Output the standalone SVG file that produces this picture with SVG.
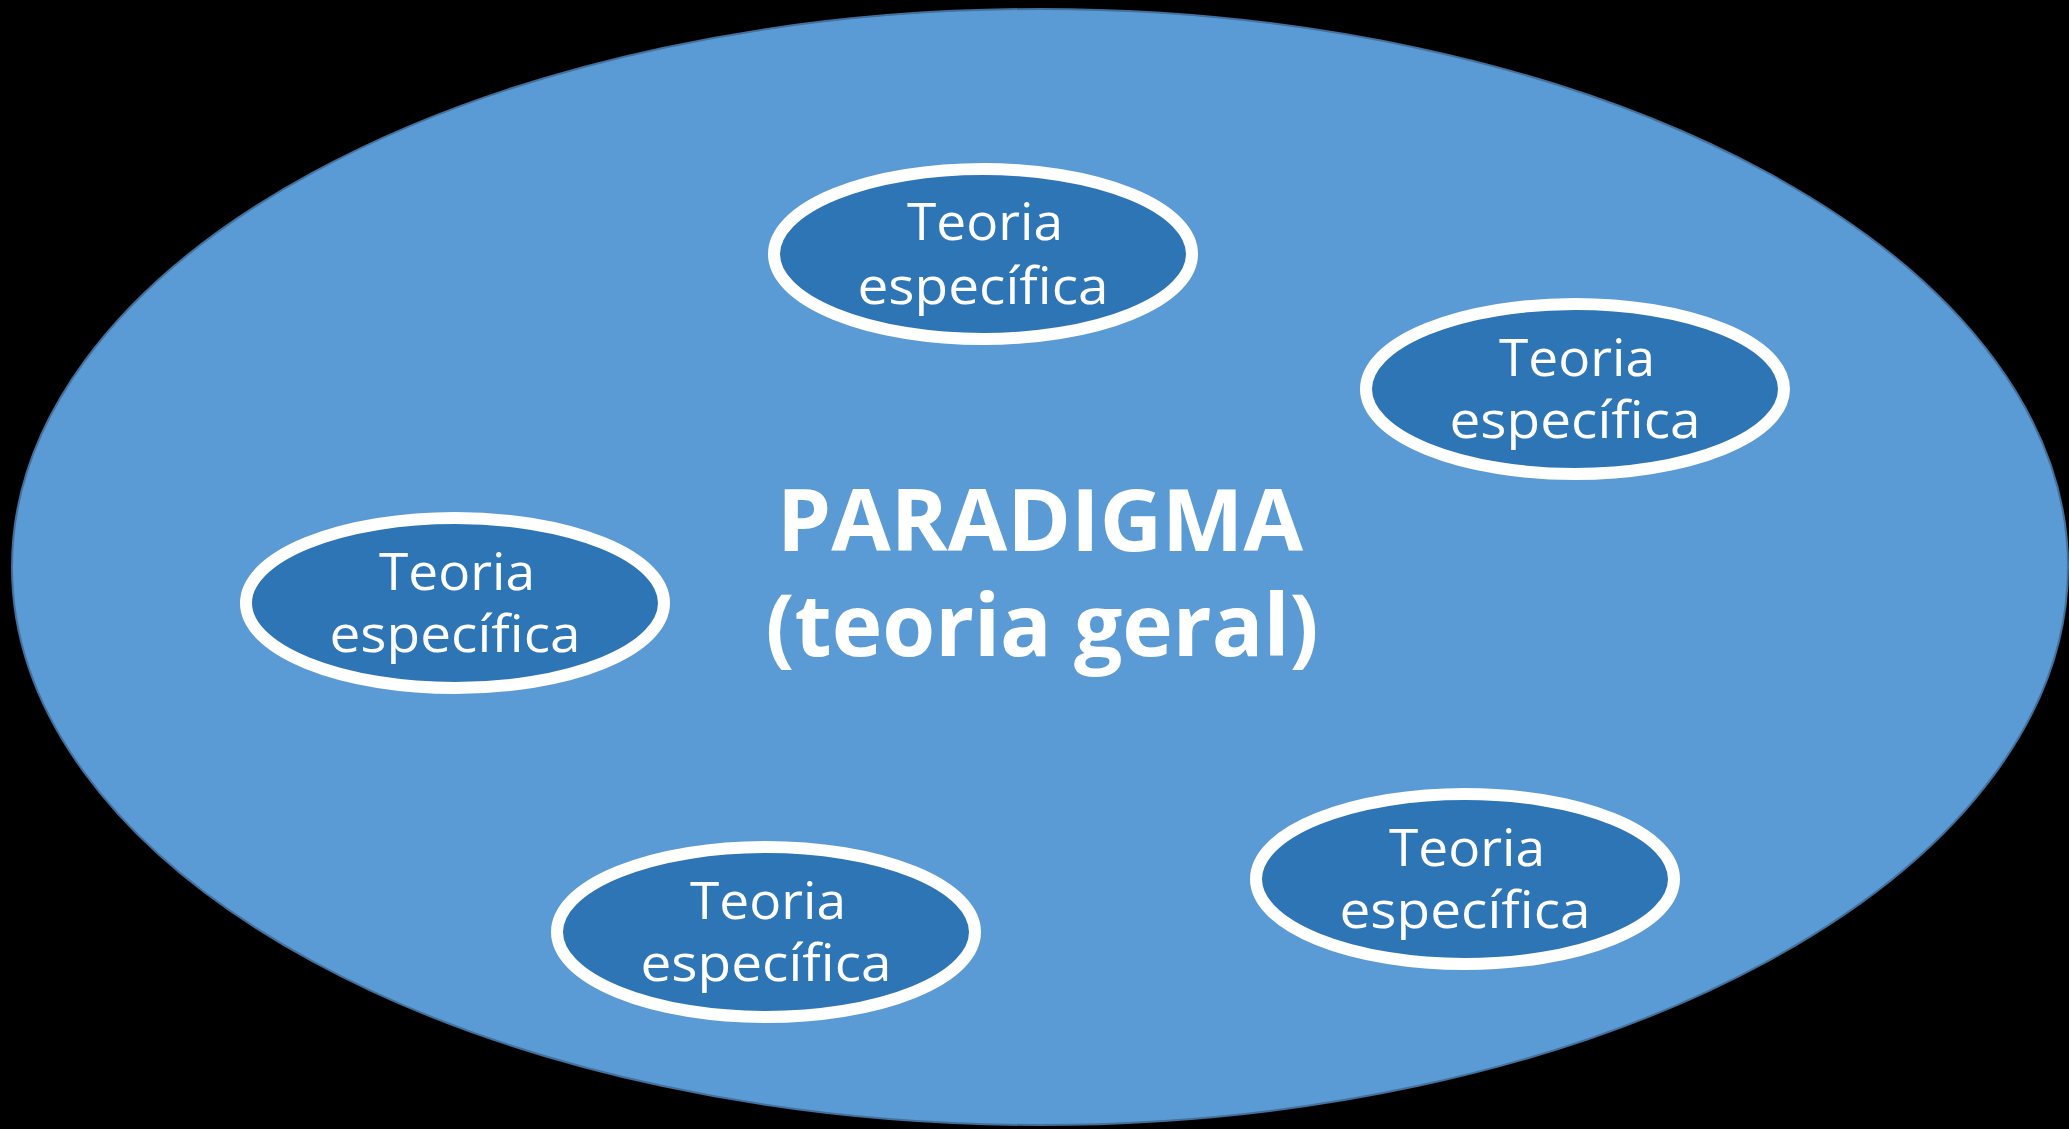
<svg xmlns="http://www.w3.org/2000/svg" width="2069" height="1129" viewBox="0 0 2069 1129">
  <style>
    .bg { fill: #000000; }
    .outer { fill: #5B9BD5; stroke: #41719C; stroke-width: 2; }
    .inner { fill: #2E75B6; stroke: #FFFFFF; stroke-width: 12; }
    .lbl { font-family: "Comic Sans MS", "Open Sans", "Noto Sans", sans-serif; font-size: 52px; fill: #FFFFFF; text-anchor: middle; }
    .title { font-family: "Comic Sans MS", "Open Sans", "Noto Sans", sans-serif; font-size: 86px; font-weight: bold; fill: #FFFFFF; text-anchor: middle; }
  </style>
  <rect class="bg" x="0" y="0" width="2069" height="1129"/>
  <g id="paradigma">
    <ellipse class="outer" cx="1040" cy="567" rx="1028" ry="558"/>
    <text class="title" x="1040" y="551" textLength="526" lengthAdjust="spacingAndGlyphs">PARADIGMA</text>
    <text class="title" x="1042" y="656" textLength="553" lengthAdjust="spacingAndGlyphs">(teoria geral)</text>
  </g>
  <g id="connectors"></g>
  <g id="teoria-top">
    <ellipse class="inner" cx="983" cy="254" rx="209" ry="85"/>
    <text class="lbl" x="985" y="240" textLength="156" lengthAdjust="spacingAndGlyphs">Teoria</text>
    <text class="lbl" x="983" y="304" textLength="251" lengthAdjust="spacingAndGlyphs">específica</text>
  </g>
  <g id="teoria-right">
    <ellipse class="inner" cx="1575" cy="389" rx="209" ry="85"/>
    <text class="lbl" x="1577" y="376" textLength="156" lengthAdjust="spacingAndGlyphs">Teoria</text>
    <text class="lbl" x="1575" y="438" textLength="251" lengthAdjust="spacingAndGlyphs">específica</text>
  </g>
  <g id="teoria-left">
    <ellipse class="inner" cx="455" cy="603" rx="209" ry="85"/>
    <text class="lbl" x="457" y="590" textLength="156" lengthAdjust="spacingAndGlyphs">Teoria</text>
    <text class="lbl" x="455" y="652" textLength="251" lengthAdjust="spacingAndGlyphs">específica</text>
  </g>
  <g id="teoria-bottom-left">
    <ellipse class="inner" cx="766" cy="932" rx="209" ry="85"/>
    <text class="lbl" x="768" y="919" textLength="156" lengthAdjust="spacingAndGlyphs">Teoria</text>
    <text class="lbl" x="766" y="981" textLength="251" lengthAdjust="spacingAndGlyphs">específica</text>
  </g>
  <g id="teoria-bottom-right">
    <ellipse class="inner" cx="1465" cy="879" rx="209" ry="85"/>
    <text class="lbl" x="1467" y="866" textLength="156" lengthAdjust="spacingAndGlyphs">Teoria</text>
    <text class="lbl" x="1465" y="928" textLength="251" lengthAdjust="spacingAndGlyphs">específica</text>
  </g>
</svg>
